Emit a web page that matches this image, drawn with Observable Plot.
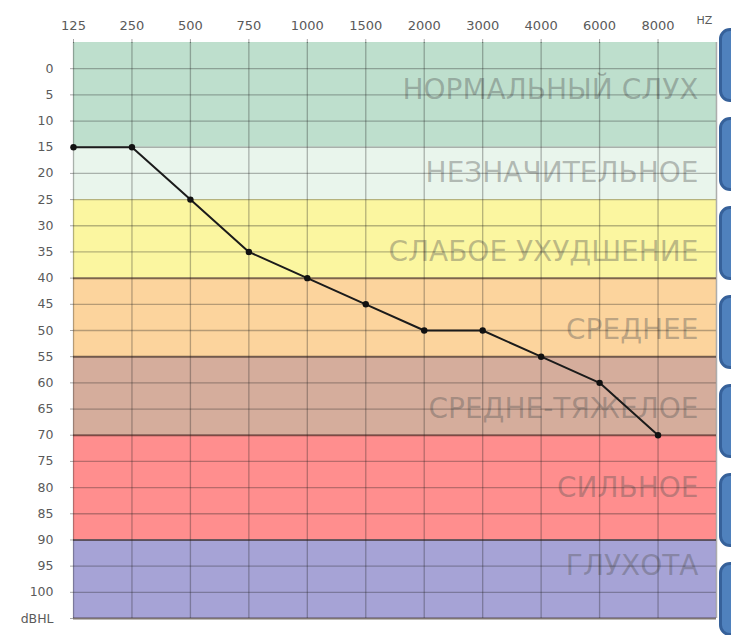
<!DOCTYPE html>
<html><head><meta charset="utf-8">
<script src="https://cdn.jsdelivr.net/npm/d3@7"></script>
<script src="https://cdn.jsdelivr.net/npm/@observablehq/plot@0.6"></script>
<style>
body{margin:0;background:#fff;}
#wrap{position:relative;width:731px;height:635px;overflow:hidden;background:#fff;}
#wrap svg{position:absolute;left:0;top:0;}
.box{position:absolute;left:719px;width:40px;height:74px;background:#4f81bd;border:3px solid #36619a;border-radius:11px;box-sizing:border-box;}
</style></head><body><div id="wrap"></div>
<script>
// Frequencies (Hz) and hearing thresholds (dB HL)
const freqLabels = ["125","250","500","750","1000","1500","2000","3000","4000","6000","8000"];
const thresholds = [15, 15, 25, 35, 40, 45, 50, 50, 55, 60, 70];
// Hearing-loss bands
const bandNames = ["НОРМАЛЬНЫЙ СЛУХ","НЕЗНАЧИТЕЛЬНОЕ","СЛАБОЕ УХУДШЕНИЕ","СРЕДНЕЕ","СРЕДНЕ-ТЯЖЕЛОЕ","СИЛЬНОЕ","ГЛУХОТА"];
const bandFrom = [-5, 15, 25, 40, 55, 70, 90];
const bandTo   = [15, 25, 40, 55, 70, 90, 105];
const bandLabelDb = [4, 20, 35, 50, 65, 80, 95];
const bandColors = ["#bedfcd","#e9f5ec","#fbf6a0","#fcd49d","#d5ad9c","#ff8e8e","#a6a3d6"];
const dbTicks = d3.range(0, 101, 5);
const heavyLines = [40, 55, 70, 90, 105];
const unitX = "HZ";
const unitY = "dBHL";

const bands = bandNames.map((name, i) => ({name, y1: bandFrom[i], y2: bandTo[i], ly: bandLabelDb[i], color: bandColors[i]}));
const points = thresholds.map((v, i) => ({i, f: freqLabels[i], v}));
const freqIdx = freqLabels.map((_, i) => i);

const chart = Plot.plot({
  width: 731, height: 635,
  marginLeft: 73, marginRight: 15, marginTop: 42, marginBottom: 17,
  style: {fontFamily: "DejaVu Sans", background: "transparent", color: "#5a5a5a"},
  x: {domain: [0, freqLabels.length], axis: null},
  y: {domain: [-5, 105], reverse: true, axis: null},
  color: {type: "identity"},
  marks: [
    Plot.rect(bands, {x1: 0, x2: freqLabels.length, y1: "y1", y2: "y2", fill: "color"}),
    Plot.text(bands, {x: freqLabels.length, y: "ly", text: "name", textAnchor: "end", dx: -18, fontSize: 28, fill: "#555", fillOpacity: 0.38}),
    Plot.ruleY(dbTicks.filter(d => !heavyLines.includes(d)), {stroke: "#222", strokeOpacity: 0.32, strokeWidth: 1.3}),
    Plot.ruleX(freqIdx, {y1: -5, y2: 105, stroke: "#222", strokeOpacity: 0.32, strokeWidth: 1.3}),
    Plot.ruleX([freqLabels.length], {y1: -5, y2: 105, stroke: "#999", strokeOpacity: 0.8, strokeWidth: 1.5}),
    Plot.ruleY(heavyLines, {stroke: "#2a1a10", strokeOpacity: 0.6, strokeWidth: 2}),
    Plot.axisX(freqIdx, {anchor: "top", label: null, tickFormat: i => freqLabels[i], tickSize: 4, tickPadding: 9, fontSize: 13, stroke: "#222", strokeOpacity: 0.4}),
    Plot.text([unitX], {x: freqLabels.length, y: -5, text: d => d, dx: -12, dy: -22, fontSize: 11, fill: "#5a5a5a"}),
    Plot.axisY(dbTicks.concat([105]), {anchor: "left", label: null, tickFormat: d => d === 105 ? unitY : d, tickSize: 3, tickPadding: 17, fontSize: 12.5, stroke: "#222", strokeOpacity: 0.4}),
    Plot.line(points, {x: "i", y: "v", stroke: "#1b1b1b", strokeWidth: 2}),
    Plot.dot(points, {x: "i", y: "v", r: 3.2, fill: "#111", stroke: "none"})
  ]
});
const wrap = document.getElementById("wrap");
wrap.appendChild(chart);
// decorative slide boxes on the right edge
bandNames.forEach((_, i) => {
  const b = document.createElement("div");
  b.className = "box";
  b.style.top = (28 + i * 89) + "px";
  wrap.appendChild(b);
});
</script>
</body></html>
